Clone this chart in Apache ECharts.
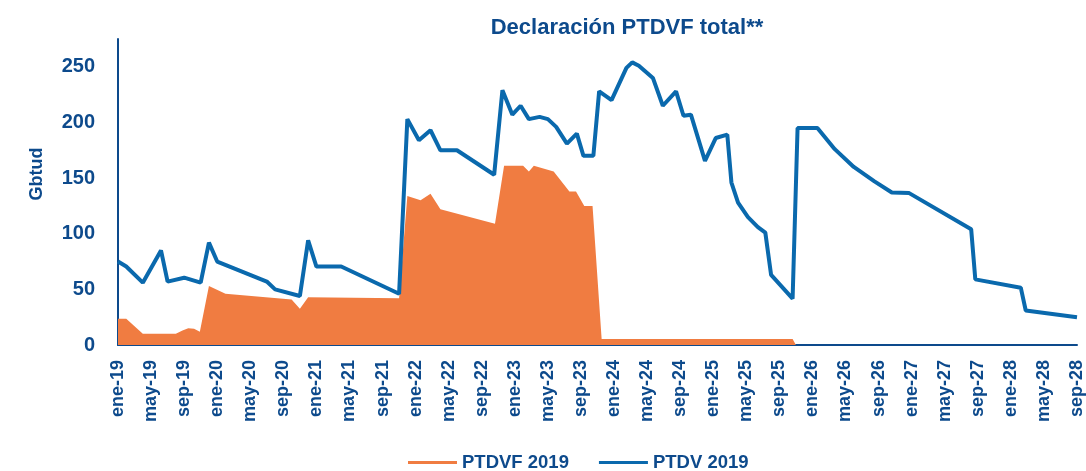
<!DOCTYPE html>
<html style="height: 100%">
   <head>
       <meta charset="utf-8">
   </head>
   <body style="height: 100%; margin: 0">
       <div id="container" style="width: 1086px; height: 471px"></div>
       <script type="text/javascript" src="https://cdn.jsdelivr.net/npm/echarts@6/dist/echarts.min.js"></script>
       <script type="text/javascript">
// month index from ene-19 (0) and value in Gbtud
var tickLabels = ['ene-19', 'may-19', 'sep-19', 'ene-20', 'may-20', 'sep-20', 'ene-21', 'may-21', 'sep-21',
    'ene-22', 'may-22', 'sep-22', 'ene-23', 'may-23', 'sep-23', 'ene-24', 'may-24', 'sep-24',
    'ene-25', 'may-25', 'sep-25', 'ene-26', 'may-26', 'sep-26', 'ene-27', 'may-27', 'sep-27',
    'ene-28', 'may-28', 'sep-28'];

var ptdvfData = [[0, 23.5], [1, 23.5], [3, 10], [7, 10], [7.8, 13], [8.5, 15], [9.2, 14.5], [9.9, 12],
    [11, 53], [13, 46], [21, 41], [22, 32.5], [23, 43], [34, 42], [35, 134], [36.6, 130], [37.8, 136],
    [39, 122], [45.6, 109], [46.7, 161], [49, 161], [49.7, 156], [50.3, 161], [52.7, 156], [54.6, 138],
    [55.4, 138], [56.4, 125], [57.4, 125], [58.5, 5.5], [81.6, 5.5], [82, 0]];

var ptdvData = [[0, 75], [1, 70.5], [3, 56], [5.2, 85], [6, 57], [8, 60.5], [10, 56], [11, 92], [12, 75],
    [18, 57], [19, 50], [22, 44], [23, 94], [24, 70.5], [27, 70.5], [34, 46], [35, 203], [36.4, 184],
    [37.8, 193], [39, 175], [41, 175], [45.5, 153], [46.5, 229], [47.7, 207], [48.7, 215], [49.7, 203],
    [51, 205], [52, 203], [53, 196], [54.3, 181], [55.5, 190], [56.3, 170], [57.5, 170], [58.2, 228],
    [59.7, 220], [61.5, 249], [62.2, 254], [63, 251], [64.7, 240], [65.9, 215], [67.5, 228], [68.4, 206],
    [69.3, 207], [71, 165.5], [72.3, 186], [73.7, 189], [74.2, 146], [75, 128], [76.2, 115], [77.4, 106],
    [78.3, 101], [79, 63], [81.6, 41.6], [82.2, 195], [84.6, 195], [86.7, 176], [89, 160], [91.5, 147],
    [93.6, 137], [95.7, 136.5], [103.2, 104], [103.7, 59], [109.2, 51.5], [109.8, 31], [116, 25]];

var navy = '#0d4a8c';
var font = "'Liberation Sans', Arial, sans-serif";

var dom = document.getElementById("container");
var myChart = echarts.init(dom);
var option = {
    animation: false,
    title: {
        text: 'Declaración PTDVF total**',
        left: 622,
        textAlign: 'center',
        top: 12,
        textStyle: { color: navy, fontFamily: font, fontWeight: 'bold', fontSize: 22 }
    },
    legend: {
        left: 403,
        top: 448,
        itemWidth: 49,
        itemHeight: 3,
        itemGap: 30,
        icon: 'rect',
        textStyle: { color: navy, fontFamily: font, fontWeight: 'bold', fontSize: 18.5 },
        data: [
            { name: 'PTDVF 2019', itemStyle: { color: '#f07c41' } },
            { name: 'PTDV 2019', itemStyle: { color: '#0a69ad' } }
        ]
    },
    grid: { left: 118, right: 2, top: 39, bottom: 126 },
    xAxis: {
        type: 'value',
        min: 0,
        max: 116,
        interval: 4,
        splitLine: { show: false },
        axisTick: { show: false },
        axisLine: { lineStyle: { color: navy, width: 2 } },
        axisLabel: {
            rotate: 90,
            margin: 15,
            color: navy,
            fontFamily: font,
            fontWeight: 'bold',
            fontSize: 18,
            formatter: function (v) { return tickLabels[Math.round(v / 4)] || ''; }
        }
    },
    yAxis: {
        type: 'value',
        name: 'Gbtud',
        nameLocation: 'middle',
        nameRotate: 90,
        nameGap: 72,
        nameTextStyle: { color: navy, fontFamily: font, fontWeight: 'bold', fontSize: 18, padding: [0, 0, 0, 36] },
        min: 0,
        max: 275,
        interval: 50,
        splitLine: { show: false },
        axisTick: { show: false },
        axisLine: { show: true, lineStyle: { color: navy, width: 2 } },
        axisLabel: {
            margin: 23,
            color: navy,
            fontFamily: font,
            fontWeight: 'bold',
            fontSize: 20,
            formatter: function (v) { return v % 50 === 0 ? v : ''; }
        }
    },
    series: [
        {
            name: 'PTDVF 2019',
            type: 'line',
            data: ptdvfData,
            symbol: 'none',
            lineStyle: { width: 0 },
            itemStyle: { color: '#f07c41' },
            areaStyle: { color: '#f07c41', opacity: 1 },
            z: 2
        },
        {
            name: 'PTDV 2019',
            type: 'line',
            data: ptdvData,
            symbol: 'none',
            lineStyle: { color: '#0a69ad', width: 4 },
            itemStyle: { color: '#0a69ad' },
            z: 3
        }
    ]
};
myChart.setOption(option);
       </script>
   </body>
</html>
